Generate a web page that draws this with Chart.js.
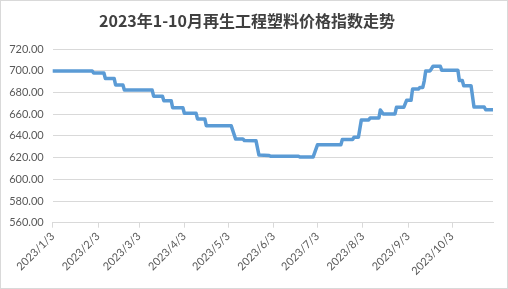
<!DOCTYPE html>
<html>
<head>
<meta charset="utf-8">
<script src="https://cdn.jsdelivr.net/npm/chart.js@4.4.0/dist/chart.umd.min.js"></script>
<style>
html, body { margin: 0; padding: 0; background: #fff; }
#wrap { width: 508px; height: 289px; box-sizing: border-box; border: 1px solid #d9d9d9; }
canvas { display: block; }
</style>
</head>
<body>
<div id="wrap"><canvas id="priceChart" width="506" height="287"></canvas></div>
<script>
// 价格指数（按日期读取的转折点）
const dates = [
    '2023-01-03', '2023-01-30', '2023-01-31', '2023-02-07', '2023-02-08', '2023-02-14',
    '2023-02-15', '2023-02-20', '2023-02-21', '2023-03-12', '2023-03-13', '2023-03-19',
    '2023-03-20', '2023-03-25', '2023-03-26', '2023-04-02', '2023-04-03', '2023-04-11',
    '2023-04-12', '2023-04-17', '2023-04-18', '2023-05-05', '2023-05-08', '2023-05-13',
    '2023-05-14', '2023-05-22', '2023-05-24', '2023-05-31', '2023-06-01', '2023-06-20',
    '2023-06-21', '2023-06-30', '2023-07-03', '2023-07-19', '2023-07-20', '2023-07-27',
    '2023-07-28', '2023-07-31', '2023-08-02', '2023-08-07', '2023-08-08', '2023-08-14',
    '2023-08-15', '2023-08-17', '2023-08-25', '2023-08-26', '2023-08-31', '2023-09-02',
    '2023-09-05', '2023-09-06', '2023-09-10', '2023-09-11', '2023-09-13', '2023-09-14',
    '2023-09-15', '2023-09-18', '2023-09-20', '2023-09-25', '2023-09-26', '2023-10-07',
    '2023-10-08', '2023-10-10', '2023-10-11', '2023-10-16', '2023-10-18', '2023-10-25',
    '2023-10-26', '2023-10-31'
];
const values = [
    700.0, 700.0, 698.0, 698.0, 693.0, 693.0,
    687.0, 687.0, 682.3, 682.3, 676.7, 676.7,
    672.5, 672.5, 666.0, 666.0, 661.0, 661.0,
    655.7, 655.7, 649.5, 649.5, 637.3, 637.3,
    635.8, 635.5, 622.4, 622.0, 621.3, 621.3,
    620.5, 620.5, 631.8, 631.8, 636.7, 636.7,
    638.8, 638.8, 654.8, 654.8, 656.6, 656.6,
    664.0, 660.3, 660.3, 666.4, 666.4, 673.0,
    673.0, 683.2, 683.2, 684.7, 684.7, 690.8,
    700.0, 700.0, 704.3, 704.3, 700.5, 700.5,
    691.2, 691.2, 686.2, 686.2, 666.7, 666.7,
    664.2, 664.2
];
const tickDates = ['2023-01-03', '2023-02-03', '2023-03-03', '2023-04-03', '2023-05-03',
    '2023-06-03', '2023-07-03', '2023-08-03', '2023-09-03', '2023-10-03'];
const tickLabels = ['2023/1/3', '2023/2/3', '2023/3/3', '2023/4/3', '2023/5/3',
    '2023/6/3', '2023/7/3', '2023/8/3', '2023/9/3', '2023/10/3'];

function dayIndex(s) {
    const p = s.split('-').map(Number);
    return (Date.UTC(p[0], p[1] - 1, p[2]) - Date.UTC(2023, 0, 3)) / 86400000;
}

const points = dates.map((d, i) => ({ x: dayIndex(d), y: values[i] }));
const tickPos = tickDates.map(dayIndex);

const axisFont = { family: 'Lato', size: 11 };

const ctx = document.getElementById('priceChart').getContext('2d');
const chart = new Chart(ctx, {
    type: 'line',
    data: {
        datasets: [{
            label: '价格指数',
            data: points,
            borderColor: '#5b9bd5',
            borderWidth: 3.5,
            pointRadius: 0,
            tension: 0,
            borderJoinStyle: 'round',
            borderCapStyle: 'round'
        }]
    },
    options: {
        responsive: false,
        animation: false,
        layout: { padding: { left: 0, right: 14, top: 0, bottom: 0 } },
        plugins: {
            legend: { display: false },
            tooltip: { enabled: false },
            title: {
                display: true,
                text: '2023年1-10月再生工程塑料价格指数走势',
                color: '#404040',
                font: { family: 'Noto Sans CJK SC', size: 16, weight: 'bold' },
                padding: { top: 10, bottom: 19 }
            }
        },
        scales: {
            x: {
                type: 'linear',
                min: 0,
                max: dayIndex(dates[dates.length - 1]),
                afterBuildTicks: scale => {
                    scale.ticks = tickPos.map(v => ({ value: v }));
                },
                afterFit: scale => { scale.height = 65.3; },
                grid: {
                    drawOnChartArea: false,
                    drawTicks: true,
                    tickLength: 5,
                    color: '#d9d9d9'
                },
                border: { color: '#d9d9d9' },
                ticks: {
                    autoSkip: false,
                    maxRotation: 45,
                    minRotation: 45,
                    padding: 2,
                    color: '#595959',
                    font: axisFont,
                    callback: value => {
                        const i = tickPos.indexOf(value);
                        return i >= 0 ? tickLabels[i] : '';
                    }
                }
            },
            y: {
                min: 560,
                max: 720,
                afterFit: scale => { scale.width = 51.7; },
                grid: { color: '#d9d9d9', drawTicks: false },
                border: { display: false },
                ticks: {
                    stepSize: 20,
                    padding: 9,
                    color: '#595959',
                    font: axisFont,
                    callback: v => v.toFixed(2)
                }
            }
        }
    }
});
</script>
</body>
</html>
